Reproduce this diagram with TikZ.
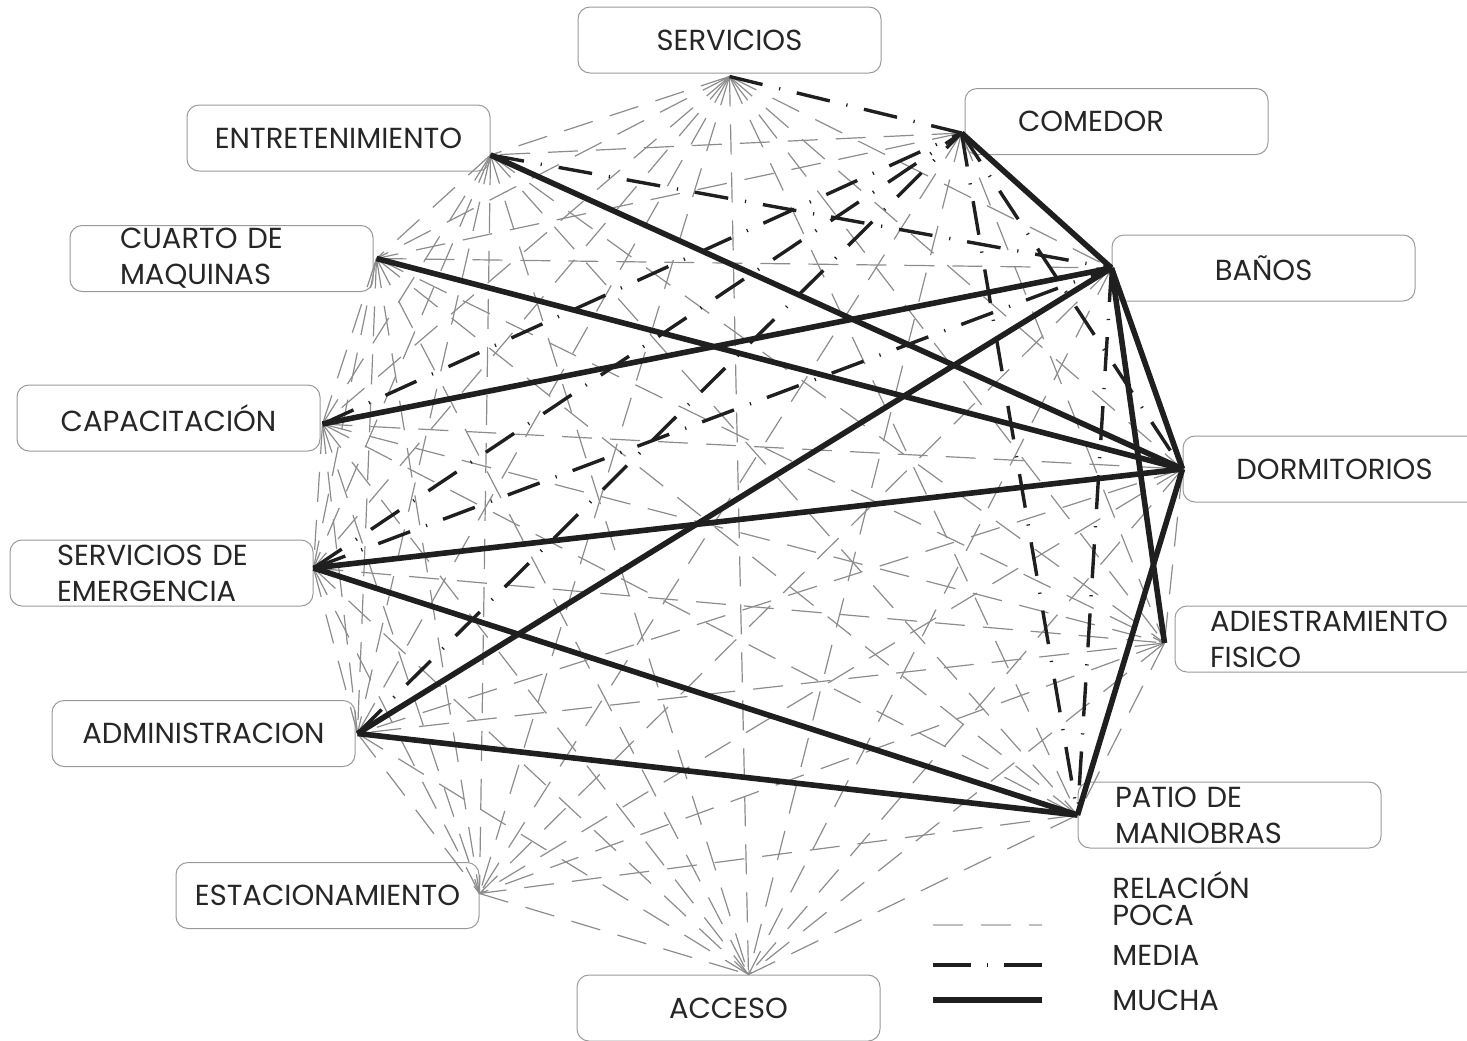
\documentclass[tikz,border=0pt]{standalone}
\usepackage{fontspec}
\setmainfont{Poppins}
\usetikzlibrary{positioning}

% relaciones fuertes y medias (las demas son pocas)
\newcommand\relmedia{servicios/comedor, entretenimiento/banos, capacitacion/comedor, emergencia/comedor, emergencia/banos, administracion/comedor, comedor/dormitorios, comedor/patio, banos/patio}
\newcommand\relmucha{entretenimiento/dormitorios, cuarto/dormitorios, capacitacion/banos, emergencia/dormitorios, emergencia/patio, administracion/banos, administracion/patio, comedor/banos, banos/dormitorios, banos/adiestramiento, dormitorios/patio}
\newcommand\espacios{servicios, comedor, entretenimiento, cuarto, banos, capacitacion, dormitorios, emergencia, adiestramiento, administracion, patio, estacionamiento, acceso}

\begin{document}
\begin{tikzpicture}[x=0.5pt, y=-0.5pt,
    box/.style={rectangle, draw=black!40, line width=0.5pt, rounded corners=6pt, minimum width=151.5pt, minimum height=33pt, inner sep=0pt, text=black!85, font=\fontsize{14.5}{18}\selectfont},
    poca/.style={draw=black!45, line width=0.6pt, dash pattern=on 15pt off 9pt},
    media/.style={draw=black!88, line width=1.7pt, dash pattern=on 17pt off 8.5pt on 0.6pt off 8.5pt},
    mucha/.style={draw=black!88, line width=2.8pt},
    leyenda/.style={anchor=west, inner sep=0pt, text=black!85, font=\fontsize{14.5}{18}\selectfont}]
    \useasboundingbox (0,0) rectangle (1467,1040);

    \node [box] (servicios) at (729.5,40) {SERVICIOS};
    \node [box, align=left, text width=98.5pt, inner xsep=26.5pt] (comedor) at (1116.5,121.5) {COMEDOR};
    \node [box] (entretenimiento) at (338.5,138) {ENTRETENIMIENTO};
    \node [box, align=left, text width=101.5pt, inner xsep=25pt] (cuarto) at (221.5,258.5) {CUARTO DE\\MAQUINAS};
    \node [box] (banos) at (1263.5,268) {BAÑOS};
    \node [box] (capacitacion) at (168.5,418) {CAPACITACIÓN};
    \node [box] (dormitorios) at (1334.5,469) {DORMITORIOS};
    \node [box, align=left, text width=104.5pt, inner xsep=23.5pt] (emergencia) at (161.5,573) {SERVICIOS DE\\EMERGENCIA};
    \node [box, align=left, text width=116.5pt, inner xsep=17.5pt] (adiestramiento) at (1326.5,639) {ADIESTRAMIENTO\\FISICO};
    \node [box] (administracion) at (203.5,733.5) {ADMINISTRACION};
    \node [box, align=left, text width=114.5pt, inner xsep=18.5pt] (patio) at (1229.5,815) {PATIO DE\\MANIOBRAS};
    \node [box] (estacionamiento) at (327.5,895.5) {ESTACIONAMIENTO};
    \node [box] (acceso) at (728.5,1008) {ACCESO};

    % puntos de llegada
    \coordinate (p-servicios) at ([yshift=-1.5pt]servicios.south);
    \coordinate (p-comedor) at ([xshift=-1.5pt,yshift=-5.75pt]comedor.west);
    \coordinate (p-entretenimiento) at ([yshift=-8.5pt]entretenimiento.east);
    \coordinate (p-cuarto) at ([xshift=1.5pt]cuarto.east);
    \coordinate (p-banos) at (banos.west);
    \coordinate (p-capacitacion) at ([xshift=1pt,yshift=-3pt]capacitacion.east);
    \coordinate (p-dormitorios) at (dormitorios.west);
    \coordinate (p-emergencia) at ([yshift=2.5pt]emergencia.east);
    \coordinate (p-adiestramiento) at ([xshift=-5pt,yshift=-2pt]adiestramiento.west);
    \coordinate (p-administracion) at ([xshift=1pt]administracion.east);
    \coordinate (p-patio) at (patio.west);
    \coordinate (p-estacionamiento) at ([yshift=1pt]estacionamiento.east);
    \coordinate (p-acceso) at ([xshift=10pt]acceso.north);

    \foreach \a/\b in \relmedia {\global\expandafter\let\csname rel-\a-\b\endcsname\relax \global\expandafter\let\csname rel-\b-\a\endcsname\relax}
    \foreach \a/\b in \relmucha {\global\expandafter\let\csname rel-\a-\b\endcsname\relax \global\expandafter\let\csname rel-\b-\a\endcsname\relax}

    % poca
    \foreach \a [count=\i] in \espacios {
        \foreach \b [count=\j] in \espacios {
            \ifnum\j>\i
                \ifcsname rel-\a-\b\endcsname\else
                    \draw[poca] (p-\a) -- (p-\b);
                \fi
            \fi
        }
    }
    % media
    \foreach \a/\b in \relmedia
        \draw[media] (p-\a) -- (p-\b);
    % mucha
    \foreach \a/\b in \relmucha
        \draw[mucha] (p-\a) -- (p-\b);

    % leyenda
    \node [leyenda] (relacion) at (1112,885) {RELACIÓN};
    \node [leyenda] (poca) at (1112,915) {POCA};
    \node [leyenda] (media) at (1112,955) {MEDIA};
    \node [leyenda] (mucha) at (1112,1000) {MUCHA};
    \draw[poca, draw=black!25] (933,925) -- (1042,925);
    \draw[media, dash pattern=on 19pt off 8pt on 0.6pt off 8pt] (933,965) -- (1042,965);
    \draw[mucha] (933,1000) -- (1042,1000);
\end{tikzpicture}
\end{document}
